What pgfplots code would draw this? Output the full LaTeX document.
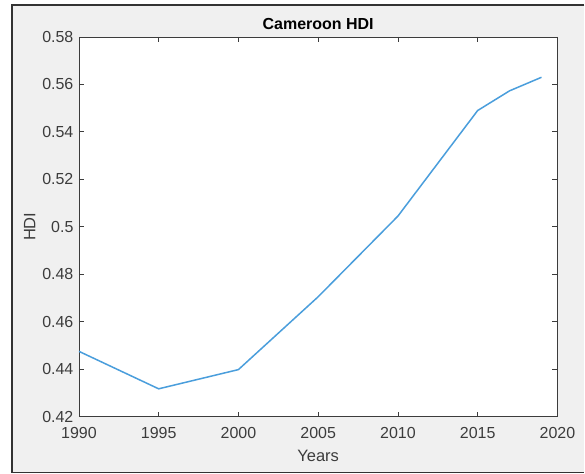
\documentclass[border=0pt]{standalone}
\usepackage{pgfplots}
\pgfplotsset{compat=1.18}
\usepackage{fontspec}
\setmainfont{Liberation Sans}
\definecolor{matblue}{HTML}{4A9EDC}
\definecolor{axgray}{HTML}{3C3C3C}
\definecolor{figbg}{HTML}{F0F0F0}
\begin{document}
\begin{tikzpicture}[x=1pt,y=1pt]
  % figure background and frame
  \fill[white] (-79,-57) rectangle (506,417);
  \fill[figbg] (-67,-56) rectangle (506,412);
  \draw[black!80, line width=1.2pt] (506,412) -- (-67,412) -- (-67,-56) -- (506,-56);
  \begin{axis}[
    at={(0,0)}, anchor=south west,
    scale only axis,
    width=479pt, height=380pt,
    xmin=1990, xmax=2020, ymin=0.42, ymax=0.58,
    xtick={1990,1995,...,2020},
    ytick={0.42,0.44,...,0.58},
    yticklabels={0.42,0.44,0.46,0.48,0.5,0.52,0.54,0.56,0.58},
    /pgf/number format/1000 sep={},
    /pgf/number format/assume math mode=true,
    tick align=inside,
    major tick length=5pt,
    axis line style={axgray, line width=0.8pt},
    tick style={axgray, line width=0.8pt},
    axis background/.style={fill=white},
    ticklabel style={font=\fontsize{16}{18}\selectfont, text=axgray},
    xticklabel style={yshift=-7pt},
    yticklabel style={xshift=-2pt},
    title={\textbf{Cameroon HDI}},
    title style={font=\fontsize{16}{18}\selectfont, yshift=-2pt},
    xlabel={Years},
    ylabel={HDI},
    label style={font=\fontsize{16.5}{18}\selectfont, text=axgray},
    xlabel style={yshift=-5pt},
    ylabel style={yshift=0pt},
  ]
    \addplot[matblue, line width=1.5pt] coordinates {
      (1990,0.4475) (1995,0.4317) (2000,0.4398) (2005,0.4705)
      (2010,0.5045) (2015,0.5490) (2017,0.5573) (2019,0.5630)
    };
  \end{axis}
\end{tikzpicture}
\end{document}
